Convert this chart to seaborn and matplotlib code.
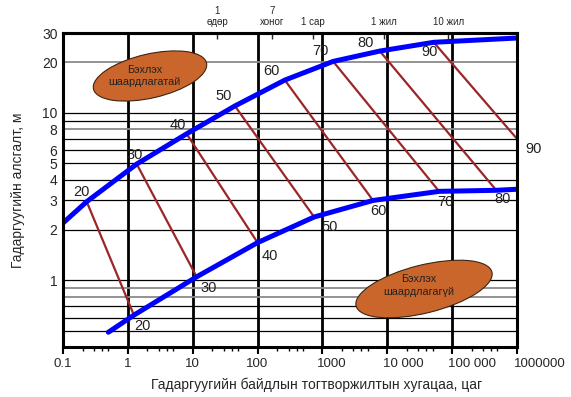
import numpy as np
import pandas as pd
import matplotlib
matplotlib.use("Agg")
import matplotlib.pyplot as plt
import seaborn as sns
from matplotlib.patches import Ellipse
from matplotlib.transforms import ScaledTranslation
from matplotlib.ticker import LogLocator, NullLocator, NullFormatter

# ---------------- data ----------------
upper_x = [0.1, 0.232, 1.37, 8.06, 44.7, 263, 1462, 7660, 52000, 1e6]
upper_y = [2.2, 2.95, 4.95, 7.5, 11.0, 15.7, 20.3, 23.4, 26.4, 28.0]
lower_x = [0.5, 1.24, 11.5, 100, 745, 6030, 63000, 480000, 1e6]
lower_y = [0.49, 0.62, 1.05, 1.68, 2.39, 3.0, 3.4, 3.45, 3.5]

rmr_levels = [20, 30, 40, 50, 60, 70, 80, 90]
line_start_x = [0.232, 1.37, 8.06, 44.7, 263, 1462, 7660, 52000]
line_start_y = [2.95, 4.95, 7.5, 11.0, 15.7, 20.3, 23.4, 26.4]
line_end_x = [1.24, 11.5, 100, 745, 6030, 63000, 480000, 1e6]
line_end_y = [0.62, 1.05, 1.68, 2.39, 3.0, 3.4, 3.45, 7.0]

x_ticks = [0.1, 1, 10, 100, 1000, 1e4, 1e5, 1e6]
x_ticklabels = ["0.1", "1", "10", "100", "1000", "10 000", "100 000", "1000000"]
y_ticks = [1, 2, 3, 4, 5, 6, 8, 10, 20, 30]
y_ticklabels = ["1", "2", "3", "4", "5", "6", "8", "10", "20", "30"]
top_ticks = [24, 168, 720, 8760, 87600]
top_ticklabels = ["1\nөдөр", "7\nхоног", "1 сар", "1 жил", "10 жил"]

v_grid = [1, 10, 100, 1000, 1e4, 1e5]
h_grid_black = [0.5, 0.6, 0.7, 1, 2, 3, 4, 5, 6, 7, 9, 10]
h_grid_gray = [0.8, 0.9, 8, 20]

# label offsets (pixels) - styling only
upper_offsets = [(-5, 10), (-2, 9), (-9, 9), (-11, 10), (-13, 9), (-13, 10), (-14, 8), (-4, -10)]
lower_offsets = [(9, -11), (12, -11), (12, -13), (16, -10), (5, -11), (6, -11), (6, -9), (17, -10)]
xlabel_shift = [0, 0, 0, 0, 9, 16, 20, 23]

# ---------------- style ----------------
sns.set_theme(style="white")
plt.rcParams["font.family"] = ["Liberation Sans", "DejaVu Sans"]

W, H = 571, 397
fig = plt.figure(figsize=(W / 100, H / 100), dpi=100)
L, R, T, B = 63, 517, 33, 347
ax = fig.add_axes([L / W, 1 - B / H, (R - L) / W, (B - T) / H])
ax.set_xscale("log")
ax.set_yscale("log")
ax.set_xlim(0.1, 1e6)
ax.set_ylim(0.4, 30)

# grid lines
for v in v_grid:
    ax.axvline(v, color="black", lw=2.0, zorder=1)
for h in h_grid_black:
    ax.axhline(h, color="black", lw=0.9, zorder=1)
for h in h_grid_gray:
    ax.axhline(h, color="#8a8a8a", lw=1.3, zorder=1)

# red connecting lines
seg = pd.DataFrame({
    "x": line_start_x + line_end_x,
    "y": line_start_y + line_end_y,
    "level": rmr_levels + rmr_levels,
})
sns.lineplot(data=seg, x="x", y="y", units="level", estimator=None, sort=False,
             color="#9B2628", lw=1.6, ax=ax, zorder=3)

# blue curves
up = pd.DataFrame({"x": upper_x, "y": upper_y})
lo = pd.DataFrame({"x": lower_x, "y": lower_y})
sns.lineplot(data=up, x="x", y="y", color="#0000FF", lw=3.6, ax=ax, zorder=4,
             solid_capstyle="round")
sns.lineplot(data=lo, x="x", y="y", color="#0000FF", lw=3.6, ax=ax, zorder=4,
             solid_capstyle="round")

# level labels
for lv, x0, y0, off in zip(rmr_levels, line_start_x, line_start_y, upper_offsets):
    ax.annotate(str(lv), (x0, y0), xytext=off, textcoords="offset pixels",
                ha="center", va="center", fontsize=10.5, color="#222222", zorder=5,
                annotation_clip=False)
for lv, x1, y1, off in zip(rmr_levels, line_end_x, line_end_y, lower_offsets):
    ax.annotate(str(lv), (x1, y1), xytext=off, textcoords="offset pixels",
                ha="center", va="center", fontsize=10.5, color="#222222", zorder=5,
                annotation_clip=False)

# ellipses
ell_fc = "#CA662B"
ell_ec = "#3b2412"
e1 = Ellipse((1.50, 3.21), 1.16, 0.44, angle=13, transform=fig.dpi_scale_trans,
             fc=ell_fc, ec=ell_ec, lw=0.8, zorder=6)
e2 = Ellipse((4.24, 1.08), 1.40, 0.48, angle=14, transform=fig.dpi_scale_trans,
             fc=ell_fc, ec=ell_ec, lw=0.8, zorder=6)
ax.add_patch(e1)
ax.add_patch(e2)
fig.text(1.445, 3.21, "Бэхлэх\nшаардлагатай", transform=fig.dpi_scale_trans,
         ha="center", va="center", fontsize=7.8, color="#222222", linespacing=1.3, zorder=7)
fig.text(4.185, 1.115, "Бэхлэх\nшаардлагагүй", transform=fig.dpi_scale_trans,
         ha="center", va="center", fontsize=7.8, color="#222222", linespacing=1.3, zorder=7)

# ticks
ax.set_xticks(x_ticks)
ax.set_xticklabels(x_ticklabels)
ax.xaxis.set_minor_locator(LogLocator(base=10, subs=(2, 3, 4, 5), numticks=20))
ax.xaxis.set_minor_formatter(NullFormatter())
ax.tick_params(axis="x", which="major", direction="out", length=5, width=1.5,
               color="black", labelsize=9.5, pad=3, bottom=True)
ax.tick_params(axis="x", which="minor", direction="out", length=3, width=1.0,
               color="black", bottom=True)
for lbl, dx in zip(ax.get_xticklabels(), xlabel_shift):
    lbl.set_transform(lbl.get_transform() + ScaledTranslation(dx / 100, 0, fig.dpi_scale_trans))

ax.set_yticks(y_ticks)
ax.set_yticklabels(y_ticklabels)
ax.yaxis.set_minor_locator(NullLocator())
ax.tick_params(axis="y", which="major", length=0, labelsize=10, pad=4)

top = ax.secondary_xaxis("top")
top.set_xticks(top_ticks)
top.set_xticklabels(top_ticklabels)
top.xaxis.set_minor_locator(NullLocator())
top.tick_params(axis="x", which="major", direction="in", length=4, width=1,
                labelsize=7, pad=4)
top.spines["top"].set_linewidth(2.2)

for s in ax.spines.values():
    s.set_linewidth(2.2)
    s.set_color("black")
    s.set_zorder(8)

ax.set_xlabel("Гадаргуугийн байдлын тогтворжилтын хугацаа, цаг", fontsize=10)
ax.set_ylabel("Гадаргуугийн алсгалт, м", fontsize=10)
ax.xaxis.set_label_coords((316.5 - L) / (R - L), -(378 - B) / (B - T))
ax.yaxis.set_label_coords((25 - L) / (R - L), 0.5)

fig.savefig("out.png", dpi=100)
